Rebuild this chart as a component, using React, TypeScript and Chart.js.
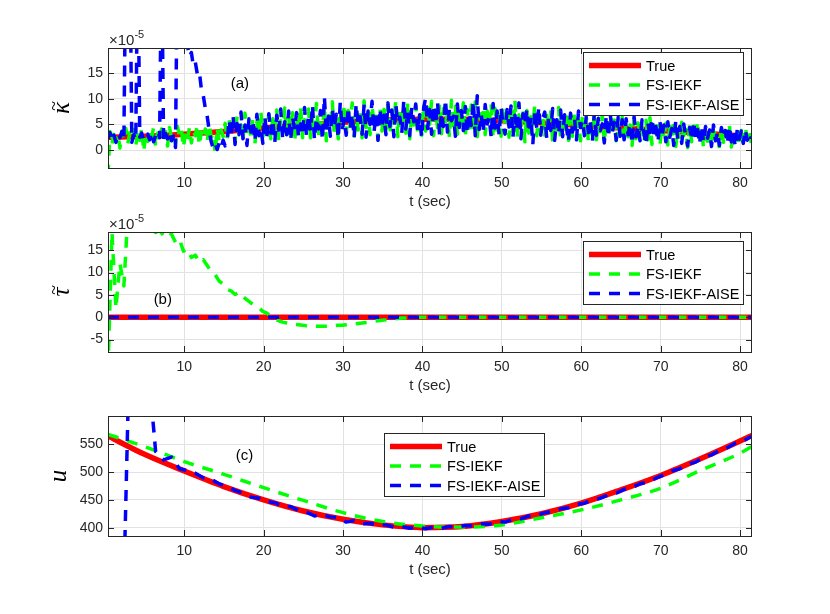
import React, { useEffect, useRef } from "react";
import { Chart, registerables } from "chart.js";

Chart.register(...registerables);

const FONT = "'Liberation Sans', Arial, Helvetica, sans-serif";
const MATH_FONT = "'Liberation Serif', 'DejaVu Serif', serif";
const AXIS_COLOR = "#262626";
const GRID_COLOR = "#e2e2e2";
const RED = "#ff0000";
const GREEN = "#00ff00";
const BLUE = "#0000ff";

const W = 830;
const H = 614;

// time axis
const X_MIN = 0.4;
const X_MAX = 81.5;
const X_TICKS = [10, 20, 30, 40, 50, 60, 70, 80];

// sample grids (sec)
const KAPPA_T0 = 0.4;
const KAPPA_DT = 0.25;
const TAU_T0 = 0.4;
const TAU_DT = 0.5;
const U_T0 = 0.4;
const U_DT = 1;
const TRUE_TIMES = [0.4, 5, 10, 15, 20, 25, 30, 35, 40, 45, 50, 55, 60, 65, 70, 75, 80, 81.5];

const LABELS = ["True", "FS-IEKF", "FS-IEKF-AISE"];

// (a) kappa, x 1e-5
const KAPPA_TICKS = [0, 5, 10, 15];
const TRUE_KAPPA = [2.5, 2.7, 3.1, 3.6, 4.3, 4.9, 5.4, 5.8, 6.0, 6.0, 5.7, 5.3, 4.8, 4.3, 3.8, 3.3, 2.8, 2.6];
const IEKF_KAPPA = [
  -5.0, 3.6, 0.9, 3.9, 1.6, 3.1, 0.4, 3.7, 2.0, 4.2, 1.3, 3.4, 2.6, 4.0, 0.9, 3.5, 1.9, 4.3, -0.3, 3.2,
  1.7, 3.8, 2.4, 4.5, 0.6, 3.3, 2.1, 4.1, 1.5, 3.6, 0.8, 4.4, 2.3, 3.0, 1.2, 4.6, 2.7, 3.9, 0.5, 3.4,
  2.0, 4.3, 1.4, 3.7, 2.8, 4.9, 0.9, 3.5, 2.2, 4.1, 1.6, 5.0, 2.5, 3.3, -0.5, 4.4, 1.8, 3.9, 2.6, 5.2,
  2.1, 6.0, 3.2, 5.4, 1.5, 6.7, 2.8, 4.9, 1.9, 7.2, 3.6, 5.8, 2.4, 6.3, 1.2, 5.5, 3.0, 7.6, 2.6, 5.1,
  3.3, 7.0, 2.2, 6.1, 4.0, 7.8, 1.9, 5.7, 3.1, 8.2, 2.6, 6.6, 4.3, 7.3, 1.6, 6.0, 3.5, 8.5, 2.4, 5.9,
  3.6, 8.0, 2.4, 6.7, 4.5, 9.1, 2.9, 6.2, 3.8, 8.6, 1.8, 7.4, 4.2, 9.4, 3.0, 6.0, 2.2, 7.8, 4.8, 8.9,
  3.2, 7.7, 4.6, 9.2, 2.7, 8.0, 3.9, 6.9, 2.4, 9.6, 4.4, 7.3, 3.0, 8.6, 5.1, 6.6, 2.1, 8.3, 3.7, 7.9,
  4.1, 8.8, 3.0, 7.4, 5.3, 9.8, 2.6, 7.9, 4.5, 8.4, 3.3, 9.3, 2.2, 7.1, 4.9, 8.7, 3.6, 6.8, 2.9, 9.0,
  3.7, 8.3, 5.0, 9.5, 2.8, 7.8, 4.4, 9.0, 3.2, 8.1, 5.5, 7.0, 2.5, 9.7, 4.0, 8.5, 3.1, 7.4, 4.8, 9.2,
  2.9, 7.9, 4.3, 8.8, 3.4, 9.4, 2.6, 7.2, 4.7, 8.4, 3.0, 7.6, 5.2, 9.0, 2.3, 8.1, 3.9, 7.0, 2.7, 8.6,
  4.4, 8.2, 2.5, 7.4, 3.6, 9.6, 2.2, 6.9, 4.0, 8.0, 1.6, 7.7, 3.3, 6.5, 4.6, 8.8, 2.8, 7.1, 3.5, 6.3,
  2.4, 6.8, 3.7, 7.9, 1.5, 6.4, 3.0, 8.3, 2.2, 5.9, 4.1, 7.2, 1.9, 6.6, 2.7, 7.5, 3.4, 5.7, 1.8, 6.9,
  3.1, 6.2, 1.6, 5.8, 2.8, 7.4, 2.0, 5.3, 3.6, 6.9, 1.3, 6.0, 2.5, 5.5, 3.9, 7.0, 1.8, 5.1, 2.9, 6.4,
  1.7, 5.6, 2.6, 4.9, 0.9, 6.0, 2.2, 5.3, 3.1, 4.5, 1.4, 5.8, 2.0, 6.3, 1.1, 4.8, 2.7, 5.5, 0.8, 5.0,
  2.3, 5.2, 1.0, 4.6, 2.6, 5.9, 0.7, 4.2, 1.9, 5.4, 2.8, 4.0, 0.5, 5.0, 1.6, 4.7, 2.4, 5.6, 1.2, 4.3,
  0.4, 4.4, 1.7, 3.9, 0.9, 4.8, 2.2, 3.5, 0.3, 4.5, 1.5, 3.8, 2.6, 4.9, 0.6, 3.6, 1.9, 4.2, 0.8, 3.8,
  1.6, 4.5, 2.3, 3.9, 1.4,
];
const AISE_KAPPA = [
  2.2, 3.4, 1.8, 2.9, 1.5, 3.2, 2.4, 3.6, 2.0, 40, 45, 40, 1.5, 3.0, 2.0, 40, 2.5, 3.3, 1.9, 2.8,
  3.1, 2.0, 3.5, 1.6, 2.9, 3.8, 2.4, 40, 1.5, 3.2, 2.2, 3.6, 1.8, 2.7, 0.5, 40, 42, 40, 36, 30,
  20.5, 18.2, 19.0, 16.4, 17.1, 14.8, 15.3, 12.0, 10.6, 8.2, 6.5, 3.8, 1.6, 0.3, 1.2, 0.1, 1.4, 0.4, 1.9, 0.8,
  1.6, 5.9, 2.4, 6.8, 1.1, 5.2, 3.0, 7.4, 2.2, 4.9, 0.9, 6.1, 3.5, 5.8, 1.7, 7.0, 2.8, 4.4, 1.3, 6.6,
  2.5, 7.1, 3.3, 5.9, 1.4, 6.8, 3.9, 8.0, 2.1, 5.5, 3.0, 7.6, 1.8, 6.2, 4.0, 7.3, 2.4, 5.1, 3.2, 8.3,
  2.6, 6.9, 3.7, 8.8, 2.0, 6.3, 4.1, 7.7, 1.9, 10.4, 3.5, 6.6, 2.7, 8.1, 4.4, 7.0, 2.2, 9.3, 3.9, 6.1,
  2.9, 8.4, 4.0, 7.1, 2.3, 9.0, 4.8, 6.5, 3.1, 8.9, 2.5, 7.6, 5.0, 9.5, 3.4, 7.2, 1.9, 8.1, 4.3, 6.8,
  3.0, 9.2, 4.6, 7.8, 2.6, 8.7, 5.2, 6.4, 3.3, 9.7, 4.1, 7.5, 2.8, 8.4, 5.5, 9.0, 3.6, 6.9, 2.4, 8.2,
  10.1, 4.2, 7.9, 3.1, 8.8, 5.0, 9.4, 2.9, 7.3, 4.6, 9.9, 3.5, 8.1, 5.7, 6.6, 2.7, 9.0, 4.4, 7.7, 3.8,
  8.5, 3.2, 7.4, 4.8, 9.6, 2.8, 10.6, 4.0, 7.0, 3.4, 8.9, 5.1, 6.4, 2.5, 9.1, 4.3, 7.6, 3.0, 8.3, 4.9,
  3.1, 7.9, 4.5, 8.6, 2.6, 6.8, 3.8, 9.2, 2.2, 7.1, 5.0, 8.0, 3.4, 6.5, 1.1, 7.7, 4.2, 8.4, 2.9, 6.2,
  7.4, 2.3, 6.6, 3.8, 8.1, 1.9, 5.9, 3.1, 7.8, 2.6, 6.9, 4.2, 1.6, 7.2, 3.5, 6.1, 2.0, 7.6, 4.4, 5.8,
  2.8, 6.9, 3.4, 5.6, 1.7, 7.3, 2.9, 6.2, 3.8, 5.1, 1.4, 6.8, 2.5, 7.0, 3.3, 5.4, 1.9, 6.4, 2.7, 5.9,
  2.0, 6.1, 3.0, 5.2, 1.2, 6.5, 2.6, 4.8, 1.8, 5.9, 3.2, 1.0, 5.4, 2.3, 6.2, 2.9, 4.6, 1.5, 5.7, 2.4,
  4.9, 1.6, 5.5, 2.5, 4.2, 0.9, 5.8, 2.0, 4.6, 1.3, 5.1, 2.8, 0.8, 4.4, 1.9, 5.6, 2.2, 4.0, 1.1, 4.8,
  1.5, 4.6, 2.3, 3.9, 0.7, 4.9, 1.8, 3.6, 0.9, 4.4, 2.4, 3.8, 1.2, 4.7, 1.6, 3.3, 0.6, 4.1, 2.1, 3.7,
  1.3, 4.0, 1.9, 3.4, 2.2,
];

// (b) tau, x 1e-5
const TAU_TICKS = [-5, 0, 5, 10, 15];
const TRUE_TAU = [0, 0, 0, 0, 0, 0, 0, 0, 0, 0, 0, 0, 0, 0, 0, 0, 0, 0];
const AISE_TAU = [0, 0, 0, 0, 0, 0, 0, 0, 0, 0, 0, 0, 0, 0, 0, 0, 0, 0];
const IEKF_TAU = [
  -12, 19, 2, 12, 7, 23, 24, 25, 25, 24,
  22, 19.6, 19.0, 19.4, 18.3, 19.2, 18.6, 16.8, 17.5, 14.8,
  15.3, 13.4, 13.9, 12.3, 12.9, 11.6, 10.2, 9.5, 8.1, 7.4,
  6.2, 5.9, 5.1, 5.6, 4.6, 3.9, 3.2, 2.6, 2.1, 1.3,
  0.9, 0.2, -0.4, -0.8, -1.1, -1.3, -1.5, -1.6, -1.7, -1.8,
  -1.9, -1.9, -2.0, -2.0, -2.0, -2.0, -1.9, -1.9, -1.8, -1.8,
  -1.7, -1.6, -1.5, -1.4, -1.3, -1.2, -1.1, -0.9, -0.8, -0.7,
  -0.6, -0.5, -0.4, -0.3, -0.2, -0.2, -0.1, -0.1, 0, 0,
  0, 0, 0, 0, 0, 0, 0, 0, 0, 0,
  0, 0, 0, 0, 0, 0, 0, 0, 0, 0,
  0, 0, 0, 0, 0, 0, 0, 0, 0, 0,
  0, 0, 0, 0, 0, 0, 0, 0, 0, 0,
  0, 0, 0, 0, 0, 0, 0, 0, 0, 0,
  0, 0, 0, 0, 0, 0, 0, 0, 0, 0,
  0, 0, 0, 0, 0, 0, 0, 0, 0, 0,
  0, 0, 0, 0, 0, 0, 0, 0, 0, 0,
  0, 0, 0,
];

// (c) u
const U_TICKS = [400, 450, 500, 550];
const TRUE_U = [565, 532, 502, 474, 450, 430, 415, 405, 400, 402, 411, 425, 444, 468, 494, 524, 556, 566];
const IEKF_U = [568, 546, 519, 496, 472, 449, 427, 411, 403, 401, 405, 418, 432, 450, 471, 503, 534, 546];
const AISE_U = [
  200, 250, 300, 900, 950, 700, 537, 522, 527, 506,
  503, 498, 490, 487, 479, 474, 467, 462, 455, 453,
  447, 445, 438, 438, 431, 428, 421, 424, 419, 418,
  410, 413, 407, 408, 404, 405, 401, 402, 399, 401,
  398, 401, 399, 402, 401, 404, 403, 407, 406, 411,
  410, 415, 416, 421, 422, 427, 429, 434, 436, 442,
  444, 450, 453, 459, 462, 469, 472, 479, 482, 489,
  495, 502, 506, 514, 518, 527, 531, 539, 544, 552, 556, 564,
];

type Pt = { x: number; y: number };
const onGrid = (values: number[], t0: number, dt: number): Pt[] =>
  values.map((y, i) => ({ x: t0 + i * dt, y }));
const atTimes = (times: number[], values: number[]): Pt[] =>
  values.map((y, i) => ({ x: times[i], y }));

type Series = { data: Pt[]; color: string; width: number; dash: number[]; smooth?: boolean };

type PanelSpec = {
  top: number;
  bottom: number;
  yMin: number;
  yMax: number;
  yTicks: number[];
  yLabel: string;
  tilde: boolean;
  yLabelX: number;
  exponent: boolean;
  tag: string;
  tagAt: [number, number];
  legend: { left: number; top: number };
  series: Series[];
};

const DASH = [11, 9];

const PANELS: PanelSpec[] = [
  {
    top: 48,
    bottom: 168,
    yMin: -3.5,
    yMax: 19.9,
    yTicks: KAPPA_TICKS,
    yLabel: "κ",
    tilde: true,
    yLabelX: 64,
    exponent: true,
    tag: "(a)",
    tagAt: [17, 13.0],
    legend: { left: 583, top: 52 },
    series: [
      { data: atTimes(TRUE_TIMES, TRUE_KAPPA), color: RED, width: 5.5, dash: [], smooth: true },
      { data: onGrid(IEKF_KAPPA, KAPPA_T0, KAPPA_DT), color: GREEN, width: 3.5, dash: DASH },
      { data: onGrid(AISE_KAPPA, KAPPA_T0, KAPPA_DT), color: BLUE, width: 3.5, dash: DASH },
    ],
  },
  {
    top: 232,
    bottom: 352,
    yMin: -7.8,
    yMax: 19.1,
    yTicks: TAU_TICKS,
    yLabel: "τ",
    tilde: true,
    yLabelX: 64,
    exponent: true,
    tag: "(b)",
    tagAt: [7.3, 3.9],
    legend: { left: 583, top: 241 },
    series: [
      { data: atTimes(TRUE_TIMES, TRUE_TAU), color: RED, width: 5.5, dash: [] },
      { data: onGrid(IEKF_TAU, TAU_T0, TAU_DT), color: GREEN, width: 3.5, dash: DASH },
      { data: atTimes(TRUE_TIMES, AISE_TAU), color: BLUE, width: 3.5, dash: DASH },
    ],
  },
  {
    top: 416,
    bottom: 536,
    yMin: 385,
    yMax: 601,
    yTicks: U_TICKS,
    yLabel: "u",
    tilde: false,
    yLabelX: 61,
    exponent: false,
    tag: "(c)",
    tagAt: [17.6, 529],
    legend: { left: 384, top: 433 },
    series: [
      { data: atTimes(TRUE_TIMES, TRUE_U), color: RED, width: 5.5, dash: [], smooth: true },
      { data: atTimes(TRUE_TIMES, IEKF_U), color: GREEN, width: 3.5, dash: DASH, smooth: true },
      { data: onGrid(AISE_U, U_T0, U_DT), color: BLUE, width: 3.5, dash: DASH },
    ],
  },
];

const decorPlugin = {
  id: "decor",
  afterDraw(chart: any, _args: any, opts: any) {
    const p: PanelSpec = opts.panel;
    const { ctx, chartArea: a, scales } = chart;
    const L = Math.round(a.left);
    const R = Math.round(a.right);
    const T = Math.round(a.top);
    const B = Math.round(a.bottom);
    ctx.save();
    ctx.setLineDash([]);
    ctx.strokeStyle = AXIS_COLOR;
    ctx.lineWidth = 1;
    ctx.strokeRect(L + 0.5, T + 0.5, R - L - 1, B - T);

    // inward ticks on all four sides
    ctx.beginPath();
    X_TICKS.forEach((v) => {
      const px = Math.round(scales.x.getPixelForValue(v)) + 0.5;
      ctx.moveTo(px, B);
      ctx.lineTo(px, B - 6);
      ctx.moveTo(px, T);
      ctx.lineTo(px, T + 6);
    });
    p.yTicks.forEach((v) => {
      const py = Math.round(scales.y.getPixelForValue(v)) + 0.5;
      ctx.moveTo(L, py);
      ctx.lineTo(L + 6, py);
      ctx.moveTo(R, py);
      ctx.lineTo(R - 6, py);
    });
    ctx.stroke();

    // exponent
    if (p.exponent) {
      ctx.fillStyle = AXIS_COLOR;
      ctx.textAlign = "left";
      ctx.textBaseline = "alphabetic";
      ctx.font = `15px ${FONT}`;
      ctx.fillText("×10", L + 1, T - 3);
      const w = ctx.measureText("×10").width;
      ctx.font = `11px ${FONT}`;
      ctx.fillText("-5", L + 1 + w, T - 10);
    }

    // y label (rotated, tilde drawn above the glyph)
    ctx.save();
    ctx.translate(p.yLabelX, (T + B) / 2);
    ctx.rotate(-Math.PI / 2);
    ctx.fillStyle = "#000";
    ctx.textAlign = "center";
    ctx.textBaseline = "alphabetic";
    ctx.font = `italic 25px ${MATH_FONT}`;
    ctx.fillText(p.yLabel, 0, 5);
    if (p.tilde) {
      ctx.font = `18px ${MATH_FONT}`;
      ctx.fillText("~", 2, -4);
    }
    ctx.restore();

    // panel tag
    ctx.fillStyle = "#000";
    ctx.textAlign = "center";
    ctx.textBaseline = "middle";
    ctx.font = `15px ${FONT}`;
    ctx.fillText(
      p.tag,
      scales.x.getPixelForValue(p.tagAt[0]),
      scales.y.getPixelForValue(p.tagAt[1])
    );

    // legend
    const lw = 160;
    const lh = 63;
    const { left, top } = p.legend;
    ctx.fillStyle = "#fff";
    ctx.fillRect(left, top, lw, lh);
    ctx.strokeStyle = AXIS_COLOR;
    ctx.lineWidth = 1;
    ctx.strokeRect(left + 0.5, top + 0.5, lw, lh);
    chart.data.datasets.forEach((ds: any, i: number) => {
      const y = top + 13.5 + i * 19.5;
      ctx.beginPath();
      ctx.setLineDash(ds.borderDash || []);
      ctx.lineWidth = ds.borderWidth;
      ctx.strokeStyle = ds.borderColor;
      ctx.lineCap = "butt";
      ctx.moveTo(left + 6, y);
      ctx.lineTo(left + 58, y);
      ctx.stroke();
      ctx.setLineDash([]);
      ctx.fillStyle = "#000";
      ctx.textAlign = "left";
      ctx.textBaseline = "middle";
      ctx.font = `14.5px ${FONT}`;
      ctx.fillText(ds.label, left + 63, y + 1);
    });
    ctx.restore();
  },
};

function PanelChart({ panel }: { panel: PanelSpec }) {
  const canvasRef = useRef<HTMLCanvasElement>(null);

  useEffect(() => {
    if (!canvasRef.current) return;
    const tickFont = { family: FONT, size: 14 };
    const chart = new Chart(canvasRef.current, {
      type: "line",
      data: {
        datasets: panel.series.map((s, i) => ({
          label: LABELS[i],
          data: s.data,
          borderColor: s.color,
          backgroundColor: s.color,
          borderWidth: s.width,
          borderDash: s.dash,
          borderJoinStyle: "round",
          pointRadius: 0,
          fill: false,
          tension: 0,
          cubicInterpolationMode: s.smooth ? "monotone" : "default",
          clip: 0,
          order: 3 - i,
        })),
      },
      options: {
        responsive: false,
        animation: false,
        events: [],
        layout: {
          padding: { left: 48, right: 78, top: panel.top, bottom: H - panel.bottom - 43 },
        },
        plugins: {
          legend: { display: false },
          tooltip: { enabled: false },
          decor: { panel },
        } as any,
        scales: {
          x: {
            type: "linear",
            min: X_MIN,
            max: X_MAX,
            afterBuildTicks: (s: any) => {
              s.ticks = X_TICKS.map((value) => ({ value }));
            },
            afterFit: (s: any) => {
              s.height = 43;
            },
            grid: { color: GRID_COLOR, drawTicks: false },
            border: { display: false },
            ticks: {
              color: AXIS_COLOR,
              font: tickFont,
              padding: 7,
              maxRotation: 0,
              autoSkip: false,
              callback: (v: any) => String(v),
            },
            title: {
              display: true,
              text: "t (sec)",
              color: AXIS_COLOR,
              font: { family: FONT, size: 15 },
              padding: 0,
            },
          },
          y: {
            type: "linear",
            min: panel.yMin,
            max: panel.yMax,
            afterBuildTicks: (s: any) => {
              s.ticks = panel.yTicks.map((value) => ({ value }));
            },
            afterFit: (s: any) => {
              s.width = 60;
            },
            grid: { color: GRID_COLOR, drawTicks: false },
            border: { display: false },
            ticks: {
              color: AXIS_COLOR,
              font: tickFont,
              padding: 5,
              callback: (v: any) => String(v),
            },
          },
        },
      },
      plugins: [decorPlugin],
    });
    return () => {
      chart.destroy();
    };
  }, [panel]);

  return (
    <canvas
      ref={canvasRef}
      width={W}
      height={H}
      style={{ position: "absolute", left: 0, top: 0, width: W, height: H }}
    />
  );
}

export default function App() {
  return (
    <div
      style={{
        position: "absolute",
        left: 0,
        top: 0,
        width: W,
        height: H,
        background: "#fff",
        overflow: "hidden",
      }}
    >
      {PANELS.map((p) => (
        <PanelChart key={p.tag} panel={p} />
      ))}
    </div>
  );
}
